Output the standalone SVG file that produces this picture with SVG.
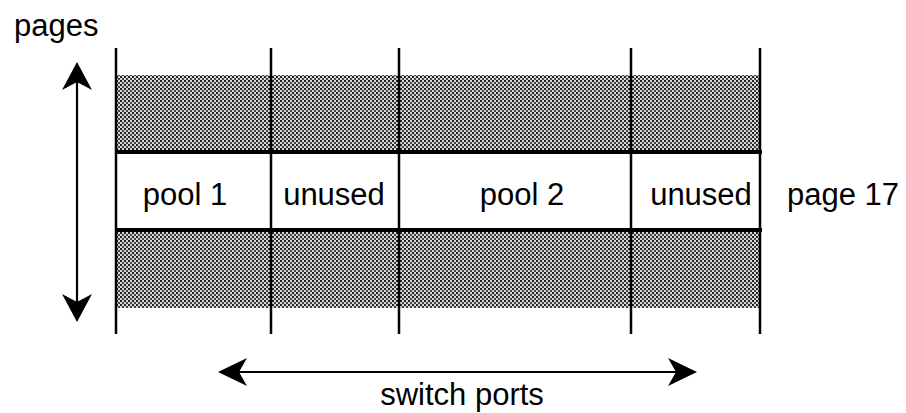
<svg xmlns="http://www.w3.org/2000/svg" width="906" height="413" viewBox="0 0 906 413">
<style>
.t{font-family:"Liberation Sans",Arial,Helvetica,sans-serif;font-size:31px;fill:#000}
.m{text-anchor:middle}
.v{stroke:#000;stroke-width:2.5;fill:none}
.h{stroke:#000;stroke-width:4;fill:none}
.ax{stroke:#000;stroke-width:2.2;fill:none}
.ah{fill:#000;stroke:none}
</style>
<defs>
<pattern id="dots" width="4" height="4" patternUnits="userSpaceOnUse">
<rect width="4" height="4" fill="#d8d8d8"/>
<rect x="0" y="0" width="2" height="2" fill="#222"/>
<rect x="2" y="2" width="2" height="2" fill="#444"/>
</pattern>
</defs>
<rect width="906" height="413" fill="#fff"/>
<g id="shaded-bands">
<rect x="117" y="75" width="643" height="77" fill="url(#dots)"/>
<rect x="117" y="230" width="643" height="78" fill="url(#dots)"/>
</g>
<g id="grid">
<line class="v" x1="116" y1="48" x2="116" y2="334"/>
<line class="v" x1="271" y1="48" x2="271" y2="334"/>
<line class="v" x1="399" y1="48" x2="399" y2="334"/>
<line class="v" x1="631" y1="48" x2="631" y2="334"/>
<line class="v" x1="760" y1="48" x2="760" y2="334"/>
<line class="h" x1="115" y1="152" x2="762" y2="152"/>
<line class="h" x1="115" y1="230" x2="762" y2="230"/>
</g>
<g id="pool1"><text class="t m" x="185" y="205">pool 1</text></g>
<g id="unused1"><text class="t m" x="334" y="205">unused</text></g>
<g id="pool2"><text class="t m" x="522" y="205">pool 2</text></g>
<g id="unused2"><text class="t m" x="701" y="205">unused</text></g>
<g id="page17"><text class="t" x="787" y="205">page 17</text></g>
<g id="pages-label"><text class="t" x="14" y="36">pages</text></g>
<g id="switch-ports-label"><text class="t m" x="462" y="405">switch ports</text></g>
<g id="connectors">
<line class="ax" x1="77" y1="80" x2="77" y2="305"/>
<path class="ah" d="M77,62 L92,90 L77,82 L62,90 Z"/>
<path class="ah" d="M77,322 L92,294 L77,302 L62,294 Z"/>
<line class="ax" x1="235" y1="372" x2="680" y2="372"/>
<path class="ah" d="M218,372 L247,358 L239,372 L247,386 Z"/>
<path class="ah" d="M697,372 L668,358 L676,372 L668,386 Z"/>
</g>
</svg>
